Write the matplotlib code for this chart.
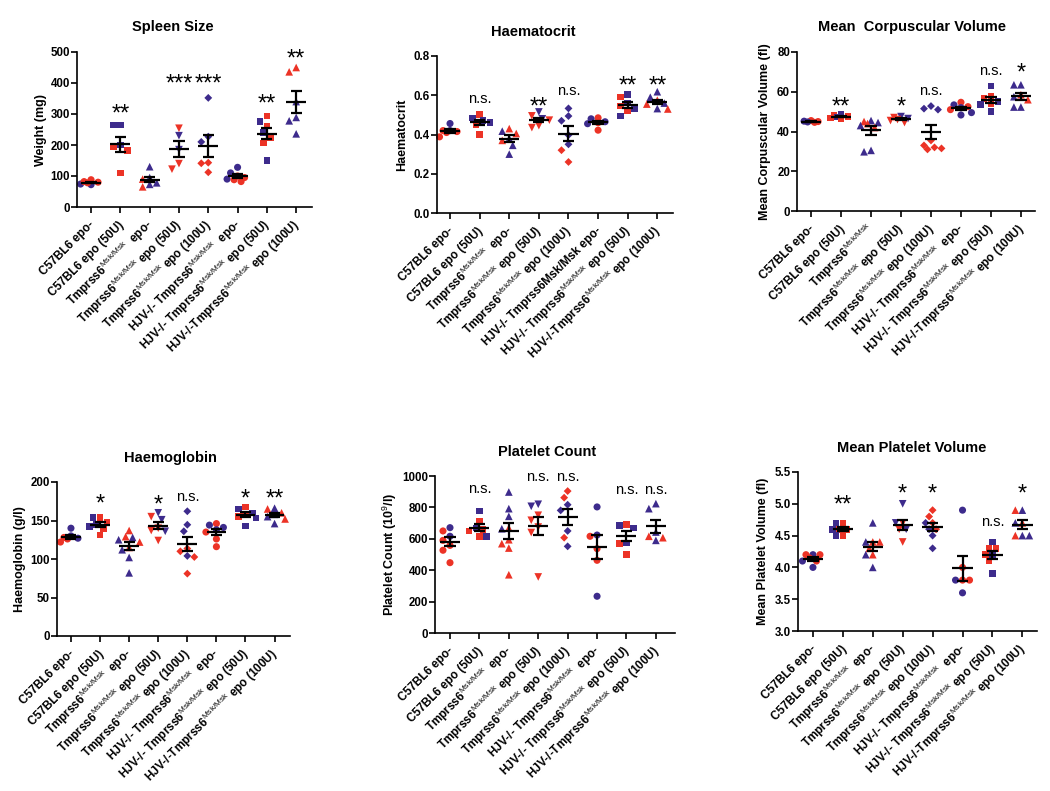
import matplotlib
import numpy as np

matplotlib.use("Agg")
import matplotlib.pyplot as plt
import matplotlib.transforms as mtransforms
from matplotlib.ticker import FormatStrFormatter

plt.rcParams["font.family"] = ["Liberation Sans", "DejaVu Sans"]
plt.rcParams["mathtext.fontset"] = "custom"
plt.rcParams["mathtext.rm"] = "Liberation Sans"
plt.rcParams["mathtext.bf"] = "Liberation Sans:bold"

RED = "#EC3326"
PURPLE = "#3D2B8C"
COLOURS = {"r": RED, "p": PURPLE}
MARKERS = ["o", "s", "^", "v", "D", "o", "s", "^"]

SUP = r"$^{\mathrm{Msk/Msk}}$"
labels_std = [
    "C57BL6 epo-",
    "C57BL6 epo (50U)",
    f"Tmprss6{SUP}  epo-",
    f"Tmprss6{SUP} epo (50U)",
    f"Tmprss6{SUP} epo (100U)",
    f"HJV-/- Tmprss6{SUP}  epo-",
    f"HJV-/- Tmprss6{SUP} epo (50U)",
    f"HJV-/-Tmprss6{SUP} epo (100U)",
]
labels_hct = labels_std[:5] + ["HJV-/- Tmprss6Msk/Msk epo-"] + labels_std[6:]
labels_mcv = labels_std[:2] + [f"Tmprss6{SUP}"] + labels_std[3:]

# ---- data (one list per group, colour codes r = red, p = purple) ----
spleen_vals = [
    [72, 74, 78, 82, 88, 80],
    [264, 264, 200, 195, 183, 109],
    [130, 95, 90, 78, 73, 65],
    [254, 230, 185, 140, 122],
    [352, 227, 210, 143, 141, 112],
    [128, 110, 100, 95, 90, 88, 82],
    [294, 276, 262, 240, 225, 207, 150],
    [450, 436, 340, 289, 278, 236],
]
spleen_cols = ["pprrrr", "ppprrr", "pprppr", "rpprr", "ppprrr", "pprrprr", "rprprrp", "rrpppp"]
spleen_sig = ["", "**", "", "***", "***", "", "**", "**"]
spleen_sig_y = [0, 325, 0, 421, 421, 0, 355, 500]

hct_vals = [
    [0.456, 0.42, 0.42, 0.415, 0.41, 0.388],
    [0.502, 0.485, 0.47, 0.46, 0.45, 0.40],
    [0.43, 0.417, 0.405, 0.38, 0.37, 0.345, 0.30],
    [0.515, 0.495, 0.48, 0.473, 0.445, 0.435],
    [0.533, 0.494, 0.47, 0.397, 0.35, 0.32, 0.26],
    [0.485, 0.48, 0.465, 0.46, 0.455, 0.422],
    [0.605, 0.59, 0.56, 0.545, 0.53, 0.52, 0.495],
    [0.618, 0.59, 0.575, 0.56, 0.555, 0.53, 0.532],
]
hct_cols = ["pprrrr", "rppprr", "rprprpp", "prprrr", "ppppprr", "rpprpr", "prprprp", "pprprrp"]
hct_sig = ["", "n.s.", "", "**", "n.s.", "", "**", "**"]
hct_sig_y = [0, 0.579, 0, 0.579, 0.621, 0, 0.686, 0.686]

mcv_vals = [
    [45.5, 45.2, 45.0, 44.8, 44.6],
    [48.6, 48.2, 47.6, 47.3, 46.9, 46.6],
    [45.5, 45.0, 44.5, 44.0, 43.0, 42.0, 29.8, 30.5],
    [47.5, 47.0, 46.5, 46.0, 45.5, 44.5],
    [52.8, 51.5, 51.0, 35.5, 33.0, 32.0, 31.5, 31.0],
    [54.7, 53.4, 52.5, 52.0, 51.0, 49.5, 48.3],
    [63.0, 57.6, 56.5, 55.0, 54.0, 53.5, 50.0],
    [63.5, 63.5, 58.5, 57.5, 56.0, 52.3, 52.3],
]
mcv_cols = ["rprpr", "prrprr", "prprprpp", "prprrr", "ppprrrrr", "rprprpp", "prrprpp", "pprprpp"]
mcv_sig = ["", "**", "", "*", "n.s.", "", "n.s.", "*"]
mcv_sig_y = [0, 55.9, 0, 55.9, 60.1, 0, 70.6, 73.0]

hb_vals = [
    [140, 130, 128, 127, 126, 122],
    [154, 154, 148, 145, 142, 139, 131],
    [137, 129, 128, 125, 122, 115, 112, 102, 82],
    [160, 155, 151, 140, 137, 136, 124],
    [162, 144.5, 136, 113.6, 110, 104, 102.6, 81],
    [146, 144, 141, 138, 135, 126, 116],
    [167.5, 165, 160, 158, 155, 153, 143],
    [166, 165, 160, 158, 155, 152, 146],
]
hb_cols = ["pprprr", "rprpprr", "rrpprrppp", "prprrpr", "ppprrprr", "rppprrr", "rpprrpp", "prrpprp"]
hb_sig = ["", "*", "", "*", "n.s.", "", "*", "**"]
hb_sig_y = [0, 180.5, 0, 179.6, 180.5, 0, 187, 188]

plt_vals = [
    [671, 650, 616, 590, 558, 527, 448],
    [777, 711, 669, 658, 650, 616, 616],
    [898, 792, 743, 669, 664, 594, 569, 541, 371],
    [820, 807, 750, 718, 675, 640, 357],
    [904, 862, 817, 781, 650, 607, 552],
    [803, 624, 616, 537, 463, 234],
    [692, 686, 669, 573, 569, 501],
    [824, 792, 643, 616, 607, 590],
]
plt_cols = ["prprrrr", "prprrrp", "ppprprrrr", "pprrrrr", "rrppprp", "pprrrp", "rppprr", "ppprrp"]
plt_sig = ["", "n.s.", "", "n.s.", "n.s.", "", "n.s.", "n.s."]
plt_sig_y = [0, 915, 0, 994, 994, 0, 909, 909]

mpv_vals = [
    [4.2, 4.2, 4.2, 4.15, 4.1, 4.1, 4.0],
    [4.7, 4.7, 4.6, 4.6, 4.6, 4.5, 4.5],
    [4.7, 4.4, 4.4, 4.4, 4.3, 4.2, 4.2, 4.0],
    [5.0, 4.7, 4.7, 4.6, 4.6, 4.4],
    [4.9, 4.8, 4.7, 4.7, 4.6, 4.6, 4.5, 4.3],
    [4.9, 4.0, 3.8, 3.8, 3.8, 3.6],
    [4.4, 4.3, 4.3, 4.2, 4.2, 4.1, 3.9],
    [4.9, 4.9, 4.7, 4.7, 4.5, 4.5, 4.5],
]
mpv_cols = ["prrrrpp", "rprrprp", "prprrrpp", "prprpr", "rrrpprpp", "prrprp", "prrprrp", "prrpprp"]
mpv_sig = ["", "**", "", "*", "*", "", "n.s.", "*"]
mpv_sig_y = [0, 5.09, 0, 5.27, 5.27, 0, 4.72, 5.27]

W, H = 1050, 791
fig = plt.figure(figsize=(W / 100, H / 100), dpi=100)


def add_panel(left, right, top, bottom):
    return fig.add_axes([left / W, 1 - bottom / H, (right - left) / W, (bottom - top) / H])


def swarm_offsets(ax, values, marker_px=7.0, max_px=12.0):
    """Simple beeswarm: spread points sideways where they would overlap."""
    bbox = ax.get_window_extent()
    y0, y1 = ax.get_ylim()
    x0, x1 = ax.get_xlim()
    ypx = (np.asarray(values, dtype=float) - y0) / (y1 - y0) * bbox.height
    px_per_x = bbox.width / (x1 - x0)
    step = 0.5 * marker_px
    cands = [0.0]
    k = 1
    while k * step <= max_px + 1e-9:
        cands += [-k * step, k * step]
        k += 1
    offs = np.zeros(len(values))
    placed = []
    for k in np.argsort(-ypx):
        best, best_d = 0.0, -1.0
        for c in cands:
            d = min((np.hypot(c - ox, ypx[k] - oy) for ox, oy in placed), default=1e9)
            if d >= marker_px:
                best = c
                break
            if d > best_d + 0.5:
                best, best_d = c, d
        placed.append((best, ypx[k]))
        offs[k] = best
    return offs / px_per_x


def draw_panel(ax, vals, cols, sig, sig_y, xlim, ylim, yticks, labels, ylabel, fmt=None):
    ax.set_xlim(*xlim)
    ax.set_ylim(*ylim)
    for i, (v, c) in enumerate(zip(vals, cols)):
        v = np.asarray(v, dtype=float)
        xs = i + swarm_offsets(ax, v)
        m = MARKERS[i]
        size = {"o": 5.1, "s": 4.7, "^": 5.5, "v": 5.5, "D": 4.0}[m]
        ax.scatter(xs, v, marker=m, s=size ** 2, c=[COLOURS[k] for k in c], linewidths=0, zorder=2,
                   clip_on=False)
        mean = v.mean()
        sem = v.std(ddof=1) / np.sqrt(len(v))
        ax.hlines(mean, i - 0.34, i + 0.34, color="black", lw=1.6, zorder=3)
        ax.vlines(i, mean - sem, mean + sem, color="black", lw=1.6, zorder=3)
        ax.hlines([mean - sem, mean + sem], i - 0.19, i + 0.19, color="black", lw=1.6, zorder=3)
        if sig[i]:
            star = sig[i].startswith("*")
            fs = 17 if star else 10.5
            drop = 0.59 * fs if star else 0.27 * fs
            tr = mtransforms.offset_copy(ax.transData, fig=fig, y=-drop, units="points")
            ax.text(i, sig_y[i], sig[i], transform=tr, ha="center", va="baseline", fontsize=fs,
                    clip_on=False)

    for side in ("top", "right"):
        ax.spines[side].set_visible(False)
    for side in ("left", "bottom"):
        ax.spines[side].set_linewidth(1.2)
    ax.set_yticks(yticks)
    if fmt:
        ax.yaxis.set_major_formatter(FormatStrFormatter(fmt))
    ax.tick_params(axis="y", length=4, width=1.2, pad=1, labelsize=8.3)
    ax.tick_params(axis="x", length=4.5, width=1.2, pad=0)
    for lab in ax.get_yticklabels():
        lab.set_fontweight("bold")
    ax.set_xticks(range(len(labels)))
    ax.set_xticklabels(labels, rotation=45, ha="right", va="baseline", rotation_mode="anchor",
                       fontsize=8.5, fontweight="bold")
    shift = mtransforms.ScaledTranslation(4 / 100, -12 / 100, fig.dpi_scale_trans)
    for lab in ax.get_xticklabels():
        lab.set_transform(lab.get_transform() + shift)
    ax.set_ylabel(ylabel, fontsize=9, fontweight="bold", va="center")


panels = [
    dict(box=(77, 312, 52, 207), xlim=(-0.48, 7.54), vals=spleen_vals, cols=spleen_cols, sig=spleen_sig,
         sig_y=spleen_sig_y, ylim=(0, 500), yticks=range(0, 501, 100), labels=labels_std,
         ylabel="Weight (mg)", title="Spleen Size", tpos=(173, 27), lab_x=41, fmt=None),
    dict(box=(437, 673, 56, 213), xlim=(-0.44, 7.53), vals=hct_vals, cols=hct_cols, sig=hct_sig,
         sig_y=hct_sig_y, ylim=(0, 0.8), yticks=np.arange(0, 0.81, 0.2), labels=labels_hct,
         ylabel="Haematocrit", title="Haematocrit", tpos=(533, 32), lab_x=402, fmt="%.1f"),
    dict(box=(797, 1035, 52, 211), xlim=(-0.47, 7.47), vals=mcv_vals, cols=mcv_cols, sig=mcv_sig,
         sig_y=mcv_sig_y, ylim=(0, 80), yticks=range(0, 81, 20), labels=labels_mcv,
         ylabel="Mean Corpuscular Volume (fl)", title="Mean  Corpuscular Volume", tpos=(912, 27),
         lab_x=765, fmt=None),
    dict(box=(57, 290, 482, 636), xlim=(-0.48, 7.53), vals=hb_vals, cols=hb_cols, sig=hb_sig,
         sig_y=hb_sig_y, ylim=(0, 200), yticks=range(0, 201, 50), labels=labels_std,
         ylabel="Haemoglobin (g/l)", title="Haemoglobin", tpos=(170, 458), lab_x=20, fmt=None),
    dict(box=(435, 675, 476, 633), xlim=(-0.51, 7.65), vals=plt_vals, cols=plt_cols, sig=plt_sig,
         sig_y=plt_sig_y, ylim=(0, 1000), yticks=range(0, 1001, 200), labels=labels_std,
         ylabel=r"Platelet Count (10$^{9}$/l)", title="Platelet Count", tpos=(547, 452), lab_x=390,
         fmt=None),
    dict(box=(798, 1037, 472, 631), xlim=(-0.5, 7.49), vals=mpv_vals, cols=mpv_cols, sig=mpv_sig,
         sig_y=mpv_sig_y, ylim=(3, 5.5), yticks=np.arange(3, 5.51, 0.5), labels=labels_std,
         ylabel="Mean Platelet Volume (fl)", title="Mean Platelet Volume", tpos=(912, 448), lab_x=763,
         fmt="%.1f"),
]

for p in panels:
    left, right, top, bottom = p["box"]
    ax = add_panel(left, right, top, bottom)
    draw_panel(ax, p["vals"], p["cols"], p["sig"], p["sig_y"], p["xlim"], p["ylim"], p["yticks"],
               p["labels"], p["ylabel"], p["fmt"])
    ax.yaxis.set_label_coords((p["lab_x"] - left) / (right - left), 0.5)
    fig.text(p["tpos"][0] / W, 1 - p["tpos"][1] / H, p["title"], ha="center", va="center",
             fontsize=10.5, fontweight="bold")

fig.savefig("out.png", dpi=100)
